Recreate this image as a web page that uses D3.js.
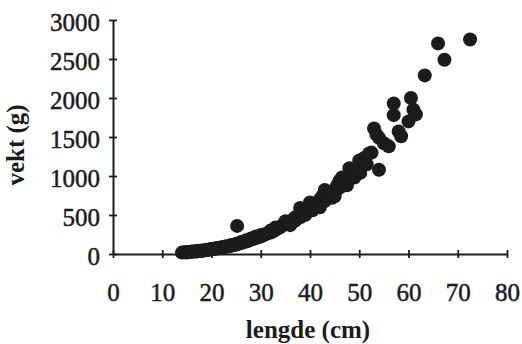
<!DOCTYPE html>
<html>
<head>
<meta charset="utf-8">
<script src="https://cdn.jsdelivr.net/npm/d3@7"></script>
<style>
  html, body { margin: 0; padding: 0; background: #fff; }
  svg { display: block; }
  text { font-family: "Liberation Serif", "Times New Roman", serif; }
</style>
</head>
<body>
<svg id="chart" width="522" height="344"></svg>
<script>
// Fish length (cm) and weight (g) measurements
const lengths = [
  14, 14.5, 15, 15, 15.5, 16, 16, 16.5, 17, 17, 17.5, 18, 18, 18.5, 19, 19, 19.5,
  20, 20, 20.5, 21, 21, 21.5, 22, 22, 22.5, 23, 23, 23.5, 24, 24, 24.5, 25, 25,
  25.2, 25.5, 26, 26, 26.5, 27, 27, 27.5, 28, 28, 28.5, 29, 29, 29.5, 30, 30, 30.5,
  31, 31.5, 32, 32, 32.5, 33, 33, 33.5, 34, 34.5, 35, 35, 35.5, 36, 36, 36.5, 37, 37,
  37.5, 38, 38, 38.5, 39, 39, 39.5, 40, 40, 40.5, 41, 41.5, 42, 42, 42.5, 43, 43, 43.5, 44,
  44.5, 45, 45, 45.5, 46, 46, 46.5, 47, 47.5, 47.5, 48, 48, 48.5, 49, 49.5, 50, 50.2, 51, 51.5,
  52, 52.5, 53, 53.5, 54, 54, 55, 56, 57, 57, 58, 58.5, 60, 60.5, 61, 61.5, 63.3,
  66, 67.3, 72.5
];
const weights = [
  18, 22, 20, 26, 25, 28, 32, 33, 32, 38, 40, 38, 45, 46, 48, 55, 54,
  60, 68, 65, 70, 78, 75, 80, 88, 90, 92, 100, 100, 105, 115, 115, 120, 130,
  360, 130, 140, 155, 150, 160, 175, 170, 185, 200, 195, 205, 225, 215, 225, 245, 240,
  255, 270, 275, 300, 290, 310, 340, 330, 345, 370, 380, 420, 400, 410, 370, 440, 430, 470,
  480, 470, 590, 520, 500, 560, 540, 570, 660, 560, 620, 640, 600, 700, 740, 680, 820, 760, 780,
  720, 820, 740, 880, 850, 940, 980, 900, 950, 880, 1000, 1100, 1050, 980, 1100, 1200, 1040, 1230, 1150,
  1290, 1300, 1610, 1530, 1080, 1490, 1420, 1380, 1930, 1780, 1570, 1510, 1700, 2000, 1850, 1790, 2290,
  2700, 2490, 2750
];
const xTicks = [0, 10, 20, 30, 40, 50, 60, 70, 80];
const yTicks = [0, 500, 1000, 1500, 2000, 2500, 3000];
const xTitle = "lengde (cm)";
const yTitle = "vekt (g)";

const svg = d3.select("#chart");
const x = d3.scaleLinear().domain([0, 80]).range([113, 507]);
const y = d3.scaleLinear().domain([0, 3000]).range([254, 20]);
const ink = "#1c1c1c";

// Points first so the axes sit on top of them
svg.append("g")
  .selectAll("circle")
  .data(lengths.map((l, i) => [l, weights[i]]))
  .join("circle")
  .attr("cx", d => x(d[0]))
  .attr("cy", d => y(d[1]))
  .attr("r", 7)
  .attr("fill", ink);

function styleLabels(sel) {
  sel.attr("font-size", 25)
    .attr("fill", ink)
    .attr("stroke", ink)
    .attr("stroke-width", 0.5)
    .attr("font-family", "Liberation Serif, serif");
}

// Axes with short ticks crossing the axis line
const xAxis = svg.append("g")
  .attr("transform", `translate(0,${y(0)})`)
  .call(d3.axisBottom(x).tickValues(xTicks).tickFormat(d3.format("d"))
    .tickSize(0).tickPadding(29).tickSizeOuter(0));
xAxis.select(".domain").attr("stroke", ink).attr("stroke-width", 2);
xAxis.selectAll(".tick line")
  .attr("y1", -4).attr("y2", 4).attr("stroke", ink).attr("stroke-width", 1.8);
xAxis.selectAll(".tick text").call(styleLabels);

const yAxis = svg.append("g")
  .attr("transform", `translate(${x(0)},0)`)
  .call(d3.axisLeft(y).tickValues(yTicks).tickFormat(d3.format("d"))
    .tickSize(0).tickPadding(13).tickSizeOuter(0));
yAxis.select(".domain").attr("stroke", ink).attr("stroke-width", 2);
yAxis.selectAll(".tick line")
  .attr("x1", -4).attr("x2", 4).attr("stroke", ink).attr("stroke-width", 1.8);
yAxis.selectAll(".tick text").call(styleLabels).attr("dy", "0.42em");

// Axis titles
svg.append("text")
  .attr("x", 308).attr("y", 338)
  .attr("text-anchor", "middle")
  .attr("font-size", 25).attr("font-weight", "bold")
  .attr("fill", ink)
  .text(xTitle);
svg.append("text")
  .attr("transform", "translate(24,145) rotate(-90)")
  .attr("text-anchor", "middle")
  .attr("font-size", 25).attr("font-weight", "bold")
  .attr("fill", ink)
  .text(yTitle);
</script>
</body>
</html>
